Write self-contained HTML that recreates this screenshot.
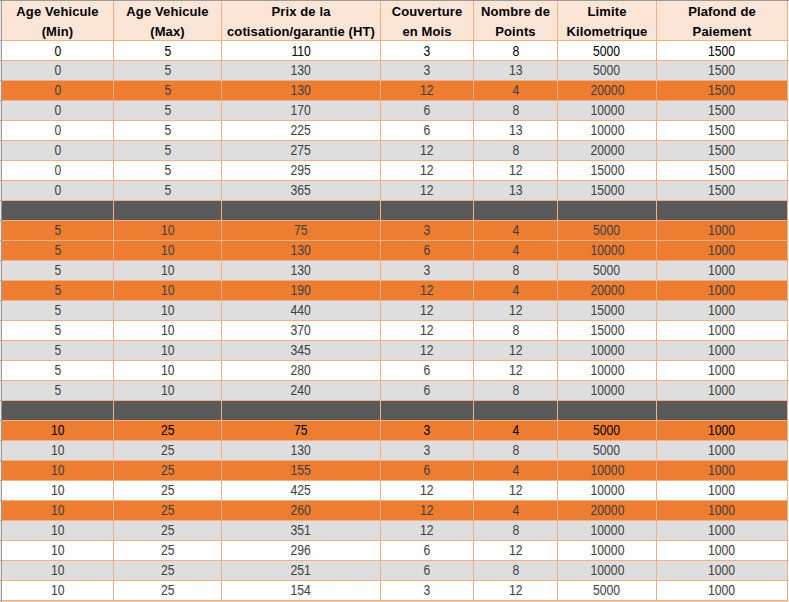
<!DOCTYPE html>
<html><head><meta charset="utf-8"><style>
html,body{margin:0;padding:0;background:#fff;}
body{width:789px;height:602px;position:relative;overflow:hidden;font-family:"Liberation Sans",sans-serif;}
.c{position:absolute;overflow:hidden;}
.t{position:absolute;left:0;right:0;text-align:center;white-space:nowrap;}
.h{font-weight:bold;font-size:13px;color:#000;line-height:20px;letter-spacing:0.12px;}
.n{font-size:14px;color:#404040;line-height:20px;}
.n span{display:inline-block;transform:scaleX(0.87);}
.k{color:#000;}
</style></head><body>

<div class="c" style="left:2px;top:1px;width:786px;height:600px;background:#F4B084"></div>
<div class="c" style="left:0;top:0;width:1px;height:602px;background:#E6E6E6"></div>
<div class="c" style="left:1px;top:0;width:1px;height:602px;background:#9A9A9A"></div>
<div class="c" style="left:0;top:0;width:789px;height:1px;background:#9A9A9A"></div>
<div class="c" style="left:2px;top:1px;width:111px;height:39px;background:#FBE5D6"><div class="t h" style="top:1px">Age Vehicule</div><div class="t h" style="top:21px">(Min)</div></div>
<div class="c" style="left:114px;top:1px;width:107px;height:39px;background:#FBE5D6"><div class="t h" style="top:1px">Age Vehicule</div><div class="t h" style="top:21px">(Max)</div></div>
<div class="c" style="left:222px;top:1px;width:158px;height:39px;background:#FBE5D6"><div class="t h" style="top:1px">Prix de la</div><div class="t h" style="top:21px">cotisation/garantie (HT)</div></div>
<div class="c" style="left:381px;top:1px;width:92px;height:39px;background:#FBE5D6"><div class="t h" style="top:1px">Couverture</div><div class="t h" style="top:21px">en Mois</div></div>
<div class="c" style="left:474px;top:1px;width:83px;height:39px;background:#FBE5D6"><div class="t h" style="top:1px">Nombre de</div><div class="t h" style="top:21px">Points</div></div>
<div class="c" style="left:558px;top:1px;width:98px;height:39px;background:#FBE5D6"><div class="t h" style="top:1px">Limite</div><div class="t h" style="top:21px">Kilometrique</div></div>
<div class="c" style="left:657px;top:1px;width:130px;height:39px;background:#FBE5D6"><div class="t h" style="top:1px">Plafond de</div><div class="t h" style="top:21px">Paiement</div></div>
<div class="c" style="left:2px;top:41px;width:111px;height:19px;background:#FFFFFF"><div class="t n k" style="top:0px"><span>0</span></div></div>
<div class="c" style="left:114px;top:41px;width:107px;height:19px;background:#FFFFFF"><div class="t n k" style="top:0px"><span>5</span></div></div>
<div class="c" style="left:222px;top:41px;width:158px;height:19px;background:#FFFFFF"><div class="t n k" style="top:0px"><span>110</span></div></div>
<div class="c" style="left:381px;top:41px;width:92px;height:19px;background:#FFFFFF"><div class="t n k" style="top:0px"><span>3</span></div></div>
<div class="c" style="left:474px;top:41px;width:83px;height:19px;background:#FFFFFF"><div class="t n k" style="top:0px"><span>8</span></div></div>
<div class="c" style="left:558px;top:41px;width:98px;height:19px;background:#FFFFFF"><div class="t n k" style="top:0px"><span>5000</span></div></div>
<div class="c" style="left:657px;top:41px;width:130px;height:19px;background:#FFFFFF"><div class="t n k" style="top:0px"><span>1500</span></div></div>
<div class="c" style="left:2px;top:61px;width:111px;height:19px;background:#DEDEDE"><div class="t n" style="top:-1px"><span>0</span></div></div>
<div class="c" style="left:114px;top:61px;width:107px;height:19px;background:#DEDEDE"><div class="t n" style="top:-1px"><span>5</span></div></div>
<div class="c" style="left:222px;top:61px;width:158px;height:19px;background:#DEDEDE"><div class="t n" style="top:-1px"><span>130</span></div></div>
<div class="c" style="left:381px;top:61px;width:92px;height:19px;background:#DEDEDE"><div class="t n" style="top:-1px"><span>3</span></div></div>
<div class="c" style="left:474px;top:61px;width:83px;height:19px;background:#DEDEDE"><div class="t n" style="top:-1px"><span>13</span></div></div>
<div class="c" style="left:558px;top:61px;width:98px;height:19px;background:#DEDEDE"><div class="t n" style="top:-1px"><span>5000</span></div></div>
<div class="c" style="left:657px;top:61px;width:130px;height:19px;background:#DEDEDE"><div class="t n" style="top:-1px"><span>1500</span></div></div>
<div class="c" style="left:2px;top:81px;width:111px;height:19px;background:#ED7D31"><div class="t n" style="top:-1px"><span>0</span></div></div>
<div class="c" style="left:114px;top:81px;width:107px;height:19px;background:#ED7D31"><div class="t n" style="top:-1px"><span>5</span></div></div>
<div class="c" style="left:222px;top:81px;width:158px;height:19px;background:#ED7D31"><div class="t n" style="top:-1px"><span>130</span></div></div>
<div class="c" style="left:381px;top:81px;width:92px;height:19px;background:#ED7D31"><div class="t n" style="top:-1px"><span>12</span></div></div>
<div class="c" style="left:474px;top:81px;width:83px;height:19px;background:#ED7D31"><div class="t n" style="top:-1px"><span>4</span></div></div>
<div class="c" style="left:558px;top:81px;width:98px;height:19px;background:#ED7D31"><div class="t n" style="top:-1px"><span>20000</span></div></div>
<div class="c" style="left:657px;top:81px;width:130px;height:19px;background:#ED7D31"><div class="t n" style="top:-1px"><span>1500</span></div></div>
<div class="c" style="left:2px;top:101px;width:111px;height:19px;background:#DEDEDE"><div class="t n" style="top:-1px"><span>0</span></div></div>
<div class="c" style="left:114px;top:101px;width:107px;height:19px;background:#DEDEDE"><div class="t n" style="top:-1px"><span>5</span></div></div>
<div class="c" style="left:222px;top:101px;width:158px;height:19px;background:#DEDEDE"><div class="t n" style="top:-1px"><span>170</span></div></div>
<div class="c" style="left:381px;top:101px;width:92px;height:19px;background:#DEDEDE"><div class="t n" style="top:-1px"><span>6</span></div></div>
<div class="c" style="left:474px;top:101px;width:83px;height:19px;background:#DEDEDE"><div class="t n" style="top:-1px"><span>8</span></div></div>
<div class="c" style="left:558px;top:101px;width:98px;height:19px;background:#DEDEDE"><div class="t n" style="top:-1px"><span>10000</span></div></div>
<div class="c" style="left:657px;top:101px;width:130px;height:19px;background:#DEDEDE"><div class="t n" style="top:-1px"><span>1500</span></div></div>
<div class="c" style="left:2px;top:121px;width:111px;height:19px;background:#FFFFFF"><div class="t n" style="top:-1px"><span>0</span></div></div>
<div class="c" style="left:114px;top:121px;width:107px;height:19px;background:#FFFFFF"><div class="t n" style="top:-1px"><span>5</span></div></div>
<div class="c" style="left:222px;top:121px;width:158px;height:19px;background:#FFFFFF"><div class="t n" style="top:-1px"><span>225</span></div></div>
<div class="c" style="left:381px;top:121px;width:92px;height:19px;background:#FFFFFF"><div class="t n" style="top:-1px"><span>6</span></div></div>
<div class="c" style="left:474px;top:121px;width:83px;height:19px;background:#FFFFFF"><div class="t n" style="top:-1px"><span>13</span></div></div>
<div class="c" style="left:558px;top:121px;width:98px;height:19px;background:#FFFFFF"><div class="t n" style="top:-1px"><span>10000</span></div></div>
<div class="c" style="left:657px;top:121px;width:130px;height:19px;background:#FFFFFF"><div class="t n" style="top:-1px"><span>1500</span></div></div>
<div class="c" style="left:2px;top:141px;width:111px;height:19px;background:#DEDEDE"><div class="t n" style="top:-1px"><span>0</span></div></div>
<div class="c" style="left:114px;top:141px;width:107px;height:19px;background:#DEDEDE"><div class="t n" style="top:-1px"><span>5</span></div></div>
<div class="c" style="left:222px;top:141px;width:158px;height:19px;background:#DEDEDE"><div class="t n" style="top:-1px"><span>275</span></div></div>
<div class="c" style="left:381px;top:141px;width:92px;height:19px;background:#DEDEDE"><div class="t n" style="top:-1px"><span>12</span></div></div>
<div class="c" style="left:474px;top:141px;width:83px;height:19px;background:#DEDEDE"><div class="t n" style="top:-1px"><span>8</span></div></div>
<div class="c" style="left:558px;top:141px;width:98px;height:19px;background:#DEDEDE"><div class="t n" style="top:-1px"><span>20000</span></div></div>
<div class="c" style="left:657px;top:141px;width:130px;height:19px;background:#DEDEDE"><div class="t n" style="top:-1px"><span>1500</span></div></div>
<div class="c" style="left:2px;top:161px;width:111px;height:19px;background:#FFFFFF"><div class="t n" style="top:-1px"><span>0</span></div></div>
<div class="c" style="left:114px;top:161px;width:107px;height:19px;background:#FFFFFF"><div class="t n" style="top:-1px"><span>5</span></div></div>
<div class="c" style="left:222px;top:161px;width:158px;height:19px;background:#FFFFFF"><div class="t n" style="top:-1px"><span>295</span></div></div>
<div class="c" style="left:381px;top:161px;width:92px;height:19px;background:#FFFFFF"><div class="t n" style="top:-1px"><span>12</span></div></div>
<div class="c" style="left:474px;top:161px;width:83px;height:19px;background:#FFFFFF"><div class="t n" style="top:-1px"><span>12</span></div></div>
<div class="c" style="left:558px;top:161px;width:98px;height:19px;background:#FFFFFF"><div class="t n" style="top:-1px"><span>15000</span></div></div>
<div class="c" style="left:657px;top:161px;width:130px;height:19px;background:#FFFFFF"><div class="t n" style="top:-1px"><span>1500</span></div></div>
<div class="c" style="left:2px;top:181px;width:111px;height:19px;background:#DEDEDE"><div class="t n" style="top:-1px"><span>0</span></div></div>
<div class="c" style="left:114px;top:181px;width:107px;height:19px;background:#DEDEDE"><div class="t n" style="top:-1px"><span>5</span></div></div>
<div class="c" style="left:222px;top:181px;width:158px;height:19px;background:#DEDEDE"><div class="t n" style="top:-1px"><span>365</span></div></div>
<div class="c" style="left:381px;top:181px;width:92px;height:19px;background:#DEDEDE"><div class="t n" style="top:-1px"><span>12</span></div></div>
<div class="c" style="left:474px;top:181px;width:83px;height:19px;background:#DEDEDE"><div class="t n" style="top:-1px"><span>13</span></div></div>
<div class="c" style="left:558px;top:181px;width:98px;height:19px;background:#DEDEDE"><div class="t n" style="top:-1px"><span>15000</span></div></div>
<div class="c" style="left:657px;top:181px;width:130px;height:19px;background:#DEDEDE"><div class="t n" style="top:-1px"><span>1500</span></div></div>
<div class="c" style="left:2px;top:201px;width:111px;height:19px;background:#595959"></div>
<div class="c" style="left:114px;top:201px;width:107px;height:19px;background:#595959"></div>
<div class="c" style="left:222px;top:201px;width:158px;height:19px;background:#595959"></div>
<div class="c" style="left:381px;top:201px;width:92px;height:19px;background:#595959"></div>
<div class="c" style="left:474px;top:201px;width:83px;height:19px;background:#595959"></div>
<div class="c" style="left:558px;top:201px;width:98px;height:19px;background:#595959"></div>
<div class="c" style="left:657px;top:201px;width:130px;height:19px;background:#595959"></div>
<div class="c" style="left:2px;top:221px;width:111px;height:19px;background:#ED7D31"><div class="t n" style="top:-1px"><span>5</span></div></div>
<div class="c" style="left:114px;top:221px;width:107px;height:19px;background:#ED7D31"><div class="t n" style="top:-1px"><span>10</span></div></div>
<div class="c" style="left:222px;top:221px;width:158px;height:19px;background:#ED7D31"><div class="t n" style="top:-1px"><span>75</span></div></div>
<div class="c" style="left:381px;top:221px;width:92px;height:19px;background:#ED7D31"><div class="t n" style="top:-1px"><span>3</span></div></div>
<div class="c" style="left:474px;top:221px;width:83px;height:19px;background:#ED7D31"><div class="t n" style="top:-1px"><span>4</span></div></div>
<div class="c" style="left:558px;top:221px;width:98px;height:19px;background:#ED7D31"><div class="t n" style="top:-1px"><span>5000</span></div></div>
<div class="c" style="left:657px;top:221px;width:130px;height:19px;background:#ED7D31"><div class="t n" style="top:-1px"><span>1000</span></div></div>
<div class="c" style="left:2px;top:241px;width:111px;height:19px;background:#ED7D31"><div class="t n" style="top:-1px"><span>5</span></div></div>
<div class="c" style="left:114px;top:241px;width:107px;height:19px;background:#ED7D31"><div class="t n" style="top:-1px"><span>10</span></div></div>
<div class="c" style="left:222px;top:241px;width:158px;height:19px;background:#ED7D31"><div class="t n" style="top:-1px"><span>130</span></div></div>
<div class="c" style="left:381px;top:241px;width:92px;height:19px;background:#ED7D31"><div class="t n" style="top:-1px"><span>6</span></div></div>
<div class="c" style="left:474px;top:241px;width:83px;height:19px;background:#ED7D31"><div class="t n" style="top:-1px"><span>4</span></div></div>
<div class="c" style="left:558px;top:241px;width:98px;height:19px;background:#ED7D31"><div class="t n" style="top:-1px"><span>10000</span></div></div>
<div class="c" style="left:657px;top:241px;width:130px;height:19px;background:#ED7D31"><div class="t n" style="top:-1px"><span>1000</span></div></div>
<div class="c" style="left:2px;top:261px;width:111px;height:19px;background:#DEDEDE"><div class="t n" style="top:-1px"><span>5</span></div></div>
<div class="c" style="left:114px;top:261px;width:107px;height:19px;background:#DEDEDE"><div class="t n" style="top:-1px"><span>10</span></div></div>
<div class="c" style="left:222px;top:261px;width:158px;height:19px;background:#DEDEDE"><div class="t n" style="top:-1px"><span>130</span></div></div>
<div class="c" style="left:381px;top:261px;width:92px;height:19px;background:#DEDEDE"><div class="t n" style="top:-1px"><span>3</span></div></div>
<div class="c" style="left:474px;top:261px;width:83px;height:19px;background:#DEDEDE"><div class="t n" style="top:-1px"><span>8</span></div></div>
<div class="c" style="left:558px;top:261px;width:98px;height:19px;background:#DEDEDE"><div class="t n" style="top:-1px"><span>5000</span></div></div>
<div class="c" style="left:657px;top:261px;width:130px;height:19px;background:#DEDEDE"><div class="t n" style="top:-1px"><span>1000</span></div></div>
<div class="c" style="left:2px;top:281px;width:111px;height:19px;background:#ED7D31"><div class="t n" style="top:-1px"><span>5</span></div></div>
<div class="c" style="left:114px;top:281px;width:107px;height:19px;background:#ED7D31"><div class="t n" style="top:-1px"><span>10</span></div></div>
<div class="c" style="left:222px;top:281px;width:158px;height:19px;background:#ED7D31"><div class="t n" style="top:-1px"><span>190</span></div></div>
<div class="c" style="left:381px;top:281px;width:92px;height:19px;background:#ED7D31"><div class="t n" style="top:-1px"><span>12</span></div></div>
<div class="c" style="left:474px;top:281px;width:83px;height:19px;background:#ED7D31"><div class="t n" style="top:-1px"><span>4</span></div></div>
<div class="c" style="left:558px;top:281px;width:98px;height:19px;background:#ED7D31"><div class="t n" style="top:-1px"><span>20000</span></div></div>
<div class="c" style="left:657px;top:281px;width:130px;height:19px;background:#ED7D31"><div class="t n" style="top:-1px"><span>1000</span></div></div>
<div class="c" style="left:2px;top:301px;width:111px;height:19px;background:#DEDEDE"><div class="t n" style="top:-1px"><span>5</span></div></div>
<div class="c" style="left:114px;top:301px;width:107px;height:19px;background:#DEDEDE"><div class="t n" style="top:-1px"><span>10</span></div></div>
<div class="c" style="left:222px;top:301px;width:158px;height:19px;background:#DEDEDE"><div class="t n" style="top:-1px"><span>440</span></div></div>
<div class="c" style="left:381px;top:301px;width:92px;height:19px;background:#DEDEDE"><div class="t n" style="top:-1px"><span>12</span></div></div>
<div class="c" style="left:474px;top:301px;width:83px;height:19px;background:#DEDEDE"><div class="t n" style="top:-1px"><span>12</span></div></div>
<div class="c" style="left:558px;top:301px;width:98px;height:19px;background:#DEDEDE"><div class="t n" style="top:-1px"><span>15000</span></div></div>
<div class="c" style="left:657px;top:301px;width:130px;height:19px;background:#DEDEDE"><div class="t n" style="top:-1px"><span>1000</span></div></div>
<div class="c" style="left:2px;top:321px;width:111px;height:19px;background:#FFFFFF"><div class="t n" style="top:-1px"><span>5</span></div></div>
<div class="c" style="left:114px;top:321px;width:107px;height:19px;background:#FFFFFF"><div class="t n" style="top:-1px"><span>10</span></div></div>
<div class="c" style="left:222px;top:321px;width:158px;height:19px;background:#FFFFFF"><div class="t n" style="top:-1px"><span>370</span></div></div>
<div class="c" style="left:381px;top:321px;width:92px;height:19px;background:#FFFFFF"><div class="t n" style="top:-1px"><span>12</span></div></div>
<div class="c" style="left:474px;top:321px;width:83px;height:19px;background:#FFFFFF"><div class="t n" style="top:-1px"><span>8</span></div></div>
<div class="c" style="left:558px;top:321px;width:98px;height:19px;background:#FFFFFF"><div class="t n" style="top:-1px"><span>15000</span></div></div>
<div class="c" style="left:657px;top:321px;width:130px;height:19px;background:#FFFFFF"><div class="t n" style="top:-1px"><span>1000</span></div></div>
<div class="c" style="left:2px;top:341px;width:111px;height:19px;background:#DEDEDE"><div class="t n" style="top:-1px"><span>5</span></div></div>
<div class="c" style="left:114px;top:341px;width:107px;height:19px;background:#DEDEDE"><div class="t n" style="top:-1px"><span>10</span></div></div>
<div class="c" style="left:222px;top:341px;width:158px;height:19px;background:#DEDEDE"><div class="t n" style="top:-1px"><span>345</span></div></div>
<div class="c" style="left:381px;top:341px;width:92px;height:19px;background:#DEDEDE"><div class="t n" style="top:-1px"><span>12</span></div></div>
<div class="c" style="left:474px;top:341px;width:83px;height:19px;background:#DEDEDE"><div class="t n" style="top:-1px"><span>12</span></div></div>
<div class="c" style="left:558px;top:341px;width:98px;height:19px;background:#DEDEDE"><div class="t n" style="top:-1px"><span>10000</span></div></div>
<div class="c" style="left:657px;top:341px;width:130px;height:19px;background:#DEDEDE"><div class="t n" style="top:-1px"><span>1000</span></div></div>
<div class="c" style="left:2px;top:361px;width:111px;height:19px;background:#FFFFFF"><div class="t n" style="top:-1px"><span>5</span></div></div>
<div class="c" style="left:114px;top:361px;width:107px;height:19px;background:#FFFFFF"><div class="t n" style="top:-1px"><span>10</span></div></div>
<div class="c" style="left:222px;top:361px;width:158px;height:19px;background:#FFFFFF"><div class="t n" style="top:-1px"><span>280</span></div></div>
<div class="c" style="left:381px;top:361px;width:92px;height:19px;background:#FFFFFF"><div class="t n" style="top:-1px"><span>6</span></div></div>
<div class="c" style="left:474px;top:361px;width:83px;height:19px;background:#FFFFFF"><div class="t n" style="top:-1px"><span>12</span></div></div>
<div class="c" style="left:558px;top:361px;width:98px;height:19px;background:#FFFFFF"><div class="t n" style="top:-1px"><span>10000</span></div></div>
<div class="c" style="left:657px;top:361px;width:130px;height:19px;background:#FFFFFF"><div class="t n" style="top:-1px"><span>1000</span></div></div>
<div class="c" style="left:2px;top:381px;width:111px;height:19px;background:#DEDEDE"><div class="t n" style="top:-1px"><span>5</span></div></div>
<div class="c" style="left:114px;top:381px;width:107px;height:19px;background:#DEDEDE"><div class="t n" style="top:-1px"><span>10</span></div></div>
<div class="c" style="left:222px;top:381px;width:158px;height:19px;background:#DEDEDE"><div class="t n" style="top:-1px"><span>240</span></div></div>
<div class="c" style="left:381px;top:381px;width:92px;height:19px;background:#DEDEDE"><div class="t n" style="top:-1px"><span>6</span></div></div>
<div class="c" style="left:474px;top:381px;width:83px;height:19px;background:#DEDEDE"><div class="t n" style="top:-1px"><span>8</span></div></div>
<div class="c" style="left:558px;top:381px;width:98px;height:19px;background:#DEDEDE"><div class="t n" style="top:-1px"><span>10000</span></div></div>
<div class="c" style="left:657px;top:381px;width:130px;height:19px;background:#DEDEDE"><div class="t n" style="top:-1px"><span>1000</span></div></div>
<div class="c" style="left:2px;top:401px;width:111px;height:19px;background:#595959"></div>
<div class="c" style="left:114px;top:401px;width:107px;height:19px;background:#595959"></div>
<div class="c" style="left:222px;top:401px;width:158px;height:19px;background:#595959"></div>
<div class="c" style="left:381px;top:401px;width:92px;height:19px;background:#595959"></div>
<div class="c" style="left:474px;top:401px;width:83px;height:19px;background:#595959"></div>
<div class="c" style="left:558px;top:401px;width:98px;height:19px;background:#595959"></div>
<div class="c" style="left:657px;top:401px;width:130px;height:19px;background:#595959"></div>
<div class="c" style="left:2px;top:421px;width:111px;height:19px;background:#ED7D31"><div class="t n k" style="top:-1px"><span>10</span></div></div>
<div class="c" style="left:114px;top:421px;width:107px;height:19px;background:#ED7D31"><div class="t n k" style="top:-1px"><span>25</span></div></div>
<div class="c" style="left:222px;top:421px;width:158px;height:19px;background:#ED7D31"><div class="t n k" style="top:-1px"><span>75</span></div></div>
<div class="c" style="left:381px;top:421px;width:92px;height:19px;background:#ED7D31"><div class="t n k" style="top:-1px"><span>3</span></div></div>
<div class="c" style="left:474px;top:421px;width:83px;height:19px;background:#ED7D31"><div class="t n k" style="top:-1px"><span>4</span></div></div>
<div class="c" style="left:558px;top:421px;width:98px;height:19px;background:#ED7D31"><div class="t n k" style="top:-1px"><span>5000</span></div></div>
<div class="c" style="left:657px;top:421px;width:130px;height:19px;background:#ED7D31"><div class="t n k" style="top:-1px"><span>1000</span></div></div>
<div class="c" style="left:2px;top:441px;width:111px;height:19px;background:#DEDEDE"><div class="t n" style="top:-1px"><span>10</span></div></div>
<div class="c" style="left:114px;top:441px;width:107px;height:19px;background:#DEDEDE"><div class="t n" style="top:-1px"><span>25</span></div></div>
<div class="c" style="left:222px;top:441px;width:158px;height:19px;background:#DEDEDE"><div class="t n" style="top:-1px"><span>130</span></div></div>
<div class="c" style="left:381px;top:441px;width:92px;height:19px;background:#DEDEDE"><div class="t n" style="top:-1px"><span>3</span></div></div>
<div class="c" style="left:474px;top:441px;width:83px;height:19px;background:#DEDEDE"><div class="t n" style="top:-1px"><span>8</span></div></div>
<div class="c" style="left:558px;top:441px;width:98px;height:19px;background:#DEDEDE"><div class="t n" style="top:-1px"><span>5000</span></div></div>
<div class="c" style="left:657px;top:441px;width:130px;height:19px;background:#DEDEDE"><div class="t n" style="top:-1px"><span>1000</span></div></div>
<div class="c" style="left:2px;top:461px;width:111px;height:19px;background:#ED7D31"><div class="t n" style="top:-1px"><span>10</span></div></div>
<div class="c" style="left:114px;top:461px;width:107px;height:19px;background:#ED7D31"><div class="t n" style="top:-1px"><span>25</span></div></div>
<div class="c" style="left:222px;top:461px;width:158px;height:19px;background:#ED7D31"><div class="t n" style="top:-1px"><span>155</span></div></div>
<div class="c" style="left:381px;top:461px;width:92px;height:19px;background:#ED7D31"><div class="t n" style="top:-1px"><span>6</span></div></div>
<div class="c" style="left:474px;top:461px;width:83px;height:19px;background:#ED7D31"><div class="t n" style="top:-1px"><span>4</span></div></div>
<div class="c" style="left:558px;top:461px;width:98px;height:19px;background:#ED7D31"><div class="t n" style="top:-1px"><span>10000</span></div></div>
<div class="c" style="left:657px;top:461px;width:130px;height:19px;background:#ED7D31"><div class="t n" style="top:-1px"><span>1000</span></div></div>
<div class="c" style="left:2px;top:481px;width:111px;height:19px;background:#FFFFFF"><div class="t n" style="top:-1px"><span>10</span></div></div>
<div class="c" style="left:114px;top:481px;width:107px;height:19px;background:#FFFFFF"><div class="t n" style="top:-1px"><span>25</span></div></div>
<div class="c" style="left:222px;top:481px;width:158px;height:19px;background:#FFFFFF"><div class="t n" style="top:-1px"><span>425</span></div></div>
<div class="c" style="left:381px;top:481px;width:92px;height:19px;background:#FFFFFF"><div class="t n" style="top:-1px"><span>12</span></div></div>
<div class="c" style="left:474px;top:481px;width:83px;height:19px;background:#FFFFFF"><div class="t n" style="top:-1px"><span>12</span></div></div>
<div class="c" style="left:558px;top:481px;width:98px;height:19px;background:#FFFFFF"><div class="t n" style="top:-1px"><span>10000</span></div></div>
<div class="c" style="left:657px;top:481px;width:130px;height:19px;background:#FFFFFF"><div class="t n" style="top:-1px"><span>1000</span></div></div>
<div class="c" style="left:2px;top:501px;width:111px;height:19px;background:#ED7D31"><div class="t n" style="top:-1px"><span>10</span></div></div>
<div class="c" style="left:114px;top:501px;width:107px;height:19px;background:#ED7D31"><div class="t n" style="top:-1px"><span>25</span></div></div>
<div class="c" style="left:222px;top:501px;width:158px;height:19px;background:#ED7D31"><div class="t n" style="top:-1px"><span>260</span></div></div>
<div class="c" style="left:381px;top:501px;width:92px;height:19px;background:#ED7D31"><div class="t n" style="top:-1px"><span>12</span></div></div>
<div class="c" style="left:474px;top:501px;width:83px;height:19px;background:#ED7D31"><div class="t n" style="top:-1px"><span>4</span></div></div>
<div class="c" style="left:558px;top:501px;width:98px;height:19px;background:#ED7D31"><div class="t n" style="top:-1px"><span>20000</span></div></div>
<div class="c" style="left:657px;top:501px;width:130px;height:19px;background:#ED7D31"><div class="t n" style="top:-1px"><span>1000</span></div></div>
<div class="c" style="left:2px;top:521px;width:111px;height:19px;background:#DEDEDE"><div class="t n" style="top:-1px"><span>10</span></div></div>
<div class="c" style="left:114px;top:521px;width:107px;height:19px;background:#DEDEDE"><div class="t n" style="top:-1px"><span>25</span></div></div>
<div class="c" style="left:222px;top:521px;width:158px;height:19px;background:#DEDEDE"><div class="t n" style="top:-1px"><span>351</span></div></div>
<div class="c" style="left:381px;top:521px;width:92px;height:19px;background:#DEDEDE"><div class="t n" style="top:-1px"><span>12</span></div></div>
<div class="c" style="left:474px;top:521px;width:83px;height:19px;background:#DEDEDE"><div class="t n" style="top:-1px"><span>8</span></div></div>
<div class="c" style="left:558px;top:521px;width:98px;height:19px;background:#DEDEDE"><div class="t n" style="top:-1px"><span>10000</span></div></div>
<div class="c" style="left:657px;top:521px;width:130px;height:19px;background:#DEDEDE"><div class="t n" style="top:-1px"><span>1000</span></div></div>
<div class="c" style="left:2px;top:541px;width:111px;height:19px;background:#FFFFFF"><div class="t n" style="top:-1px"><span>10</span></div></div>
<div class="c" style="left:114px;top:541px;width:107px;height:19px;background:#FFFFFF"><div class="t n" style="top:-1px"><span>25</span></div></div>
<div class="c" style="left:222px;top:541px;width:158px;height:19px;background:#FFFFFF"><div class="t n" style="top:-1px"><span>296</span></div></div>
<div class="c" style="left:381px;top:541px;width:92px;height:19px;background:#FFFFFF"><div class="t n" style="top:-1px"><span>6</span></div></div>
<div class="c" style="left:474px;top:541px;width:83px;height:19px;background:#FFFFFF"><div class="t n" style="top:-1px"><span>12</span></div></div>
<div class="c" style="left:558px;top:541px;width:98px;height:19px;background:#FFFFFF"><div class="t n" style="top:-1px"><span>10000</span></div></div>
<div class="c" style="left:657px;top:541px;width:130px;height:19px;background:#FFFFFF"><div class="t n" style="top:-1px"><span>1000</span></div></div>
<div class="c" style="left:2px;top:561px;width:111px;height:19px;background:#DEDEDE"><div class="t n" style="top:-1px"><span>10</span></div></div>
<div class="c" style="left:114px;top:561px;width:107px;height:19px;background:#DEDEDE"><div class="t n" style="top:-1px"><span>25</span></div></div>
<div class="c" style="left:222px;top:561px;width:158px;height:19px;background:#DEDEDE"><div class="t n" style="top:-1px"><span>251</span></div></div>
<div class="c" style="left:381px;top:561px;width:92px;height:19px;background:#DEDEDE"><div class="t n" style="top:-1px"><span>6</span></div></div>
<div class="c" style="left:474px;top:561px;width:83px;height:19px;background:#DEDEDE"><div class="t n" style="top:-1px"><span>8</span></div></div>
<div class="c" style="left:558px;top:561px;width:98px;height:19px;background:#DEDEDE"><div class="t n" style="top:-1px"><span>10000</span></div></div>
<div class="c" style="left:657px;top:561px;width:130px;height:19px;background:#DEDEDE"><div class="t n" style="top:-1px"><span>1000</span></div></div>
<div class="c" style="left:2px;top:581px;width:111px;height:19px;background:#FFFFFF"><div class="t n" style="top:-1px"><span>10</span></div></div>
<div class="c" style="left:114px;top:581px;width:107px;height:19px;background:#FFFFFF"><div class="t n" style="top:-1px"><span>25</span></div></div>
<div class="c" style="left:222px;top:581px;width:158px;height:19px;background:#FFFFFF"><div class="t n" style="top:-1px"><span>154</span></div></div>
<div class="c" style="left:381px;top:581px;width:92px;height:19px;background:#FFFFFF"><div class="t n" style="top:-1px"><span>3</span></div></div>
<div class="c" style="left:474px;top:581px;width:83px;height:19px;background:#FFFFFF"><div class="t n" style="top:-1px"><span>12</span></div></div>
<div class="c" style="left:558px;top:581px;width:98px;height:19px;background:#FFFFFF"><div class="t n" style="top:-1px"><span>5000</span></div></div>
<div class="c" style="left:657px;top:581px;width:130px;height:19px;background:#FFFFFF"><div class="t n" style="top:-1px"><span>1000</span></div></div>
<div class="c" style="left:2px;top:601px;width:786px;height:1px;background:#F7CAAC"></div>
<div class="c" style="left:0;top:40px;width:1px;height:1px;background:#A8A8A8"></div>
<div class="c" style="left:788px;top:40px;width:1px;height:1px;background:#D4D4D4"></div>
<div class="c" style="left:0;top:60px;width:1px;height:1px;background:#A8A8A8"></div>
<div class="c" style="left:788px;top:60px;width:1px;height:1px;background:#D4D4D4"></div>
<div class="c" style="left:0;top:80px;width:1px;height:1px;background:#A8A8A8"></div>
<div class="c" style="left:788px;top:80px;width:1px;height:1px;background:#D4D4D4"></div>
<div class="c" style="left:0;top:100px;width:1px;height:1px;background:#A8A8A8"></div>
<div class="c" style="left:788px;top:100px;width:1px;height:1px;background:#D4D4D4"></div>
<div class="c" style="left:0;top:120px;width:1px;height:1px;background:#A8A8A8"></div>
<div class="c" style="left:788px;top:120px;width:1px;height:1px;background:#D4D4D4"></div>
<div class="c" style="left:0;top:140px;width:1px;height:1px;background:#A8A8A8"></div>
<div class="c" style="left:788px;top:140px;width:1px;height:1px;background:#D4D4D4"></div>
<div class="c" style="left:0;top:160px;width:1px;height:1px;background:#A8A8A8"></div>
<div class="c" style="left:788px;top:160px;width:1px;height:1px;background:#D4D4D4"></div>
<div class="c" style="left:0;top:180px;width:1px;height:1px;background:#A8A8A8"></div>
<div class="c" style="left:788px;top:180px;width:1px;height:1px;background:#D4D4D4"></div>
<div class="c" style="left:0;top:200px;width:1px;height:1px;background:#A8A8A8"></div>
<div class="c" style="left:788px;top:200px;width:1px;height:1px;background:#D4D4D4"></div>
<div class="c" style="left:0;top:220px;width:1px;height:1px;background:#A8A8A8"></div>
<div class="c" style="left:788px;top:220px;width:1px;height:1px;background:#D4D4D4"></div>
<div class="c" style="left:0;top:240px;width:1px;height:1px;background:#A8A8A8"></div>
<div class="c" style="left:788px;top:240px;width:1px;height:1px;background:#D4D4D4"></div>
<div class="c" style="left:0;top:260px;width:1px;height:1px;background:#A8A8A8"></div>
<div class="c" style="left:788px;top:260px;width:1px;height:1px;background:#D4D4D4"></div>
<div class="c" style="left:0;top:280px;width:1px;height:1px;background:#A8A8A8"></div>
<div class="c" style="left:788px;top:280px;width:1px;height:1px;background:#D4D4D4"></div>
<div class="c" style="left:0;top:300px;width:1px;height:1px;background:#A8A8A8"></div>
<div class="c" style="left:788px;top:300px;width:1px;height:1px;background:#D4D4D4"></div>
<div class="c" style="left:0;top:320px;width:1px;height:1px;background:#A8A8A8"></div>
<div class="c" style="left:788px;top:320px;width:1px;height:1px;background:#D4D4D4"></div>
<div class="c" style="left:0;top:340px;width:1px;height:1px;background:#A8A8A8"></div>
<div class="c" style="left:788px;top:340px;width:1px;height:1px;background:#D4D4D4"></div>
<div class="c" style="left:0;top:360px;width:1px;height:1px;background:#A8A8A8"></div>
<div class="c" style="left:788px;top:360px;width:1px;height:1px;background:#D4D4D4"></div>
<div class="c" style="left:0;top:380px;width:1px;height:1px;background:#A8A8A8"></div>
<div class="c" style="left:788px;top:380px;width:1px;height:1px;background:#D4D4D4"></div>
<div class="c" style="left:0;top:400px;width:1px;height:1px;background:#A8A8A8"></div>
<div class="c" style="left:788px;top:400px;width:1px;height:1px;background:#D4D4D4"></div>
<div class="c" style="left:0;top:420px;width:1px;height:1px;background:#A8A8A8"></div>
<div class="c" style="left:788px;top:420px;width:1px;height:1px;background:#D4D4D4"></div>
<div class="c" style="left:0;top:440px;width:1px;height:1px;background:#A8A8A8"></div>
<div class="c" style="left:788px;top:440px;width:1px;height:1px;background:#D4D4D4"></div>
<div class="c" style="left:0;top:460px;width:1px;height:1px;background:#A8A8A8"></div>
<div class="c" style="left:788px;top:460px;width:1px;height:1px;background:#D4D4D4"></div>
<div class="c" style="left:0;top:480px;width:1px;height:1px;background:#A8A8A8"></div>
<div class="c" style="left:788px;top:480px;width:1px;height:1px;background:#D4D4D4"></div>
<div class="c" style="left:0;top:500px;width:1px;height:1px;background:#A8A8A8"></div>
<div class="c" style="left:788px;top:500px;width:1px;height:1px;background:#D4D4D4"></div>
<div class="c" style="left:0;top:520px;width:1px;height:1px;background:#A8A8A8"></div>
<div class="c" style="left:788px;top:520px;width:1px;height:1px;background:#D4D4D4"></div>
<div class="c" style="left:0;top:540px;width:1px;height:1px;background:#A8A8A8"></div>
<div class="c" style="left:788px;top:540px;width:1px;height:1px;background:#D4D4D4"></div>
<div class="c" style="left:0;top:560px;width:1px;height:1px;background:#A8A8A8"></div>
<div class="c" style="left:788px;top:560px;width:1px;height:1px;background:#D4D4D4"></div>
<div class="c" style="left:0;top:580px;width:1px;height:1px;background:#A8A8A8"></div>
<div class="c" style="left:788px;top:580px;width:1px;height:1px;background:#D4D4D4"></div>
<div class="c" style="left:0;top:600px;width:1px;height:1px;background:#A8A8A8"></div>
<div class="c" style="left:788px;top:600px;width:1px;height:1px;background:#D4D4D4"></div>
</body></html>
